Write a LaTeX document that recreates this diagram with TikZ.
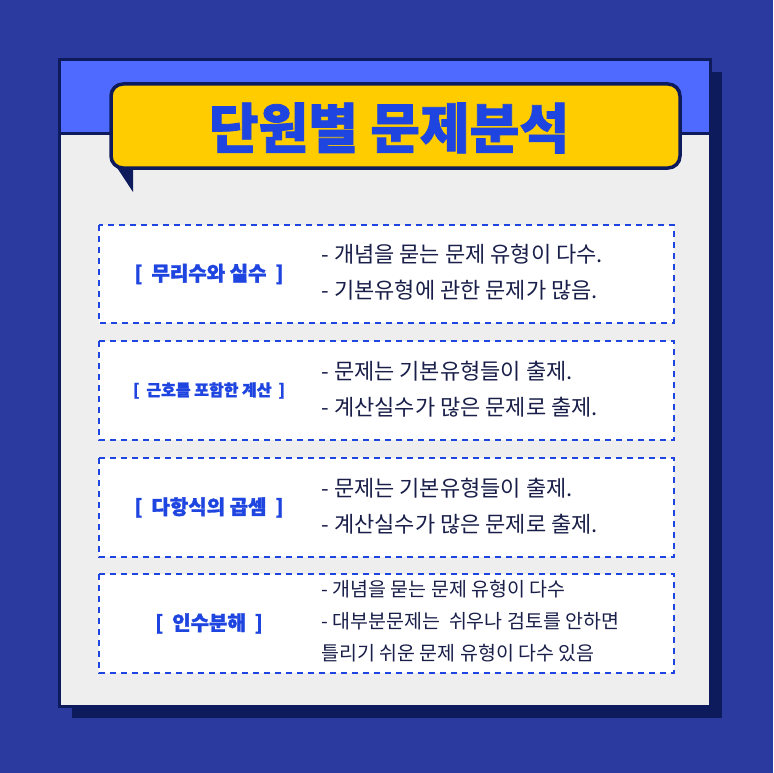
\documentclass[tikz,border=0pt]{standalone}
\usepackage{fontspec}
\newfontfamily\kr{Noto Sans CJK KR}
\newfontfamily\krb{Noto Sans CJK KR}[BoldFeatures={FakeBold=1.5}]
\definecolor{bg}{HTML}{2B3A9E}
\definecolor{navy}{HTML}{0D1A5C}
\definecolor{band}{HTML}{4F6BFF}
\definecolor{panel}{HTML}{EEEEEE}
\definecolor{ylw}{HTML}{FFCC00}
\definecolor{tblue}{HTML}{1F45E0}
\definecolor{txt}{HTML}{1A1F4A}
\tikzset{
 dbox/.style={draw=tblue,line width=2.4pt,dash pattern=on 6pt off 5pt,fill=white},
 lab/.style={font=\krb\bfseries\fontsize{20}{22}\selectfont,text=tblue,anchor=center},
 body/.style={font=\kr\fontsize{22}{36}\selectfont,text=txt,anchor=west,align=left}
}
\begin{document}
\begin{tikzpicture}[x=1pt,y=-1pt]
\fill[bg] (0,0) rectangle (773,773);
\useasboundingbox (0,0) rectangle (773,773);
\fill[navy] (72,72) rectangle (722,718);
\fill[panel] (58,58) rectangle (712,708);
\fill[band] (58,58) rectangle (712,133);
\draw[navy,line width=3pt] (58,133) -- (712,133);
\draw[navy,line width=3.5pt] (59.5,59.5) rectangle (710.5,706.5);
\fill[navy] (112,160) -- (133,192) -- (133,166) -- cycle;
\draw[navy,line width=3.5pt,fill=ylw,rounded corners=12pt] (111,84) rectangle (680,168);
\node[font=\krb\bfseries\fontsize{54}{58}\selectfont,text=tblue] (title) at (389,128) {단원별 문제분석};
\foreach \t/\b/\n in {225/323/a,341/440/b,458/557/c,574/673/d}{
  \draw[dbox] (99,\t) rectangle (674,\b);
  \coordinate (\n) at (209,{(\t+\b)/2});
}
\node[lab] (la) at (a) {[\hspace{9pt}무리수와 실수\hspace{9pt}]};
\node[lab,font=\krb\bfseries\fontsize{16}{18}\selectfont] (lb) at (b) {[\hspace{7pt}근호를 포함한 계산\hspace{7pt}]};
\node[lab] (lc) at (c) {[\hspace{9pt}다항식의 곱셈\hspace{9pt}]};
\node[lab] (ld) at (d) {[\hspace{9pt}인수분해\hspace{9pt}]};
\node[body] (ta) at (318,272) {- 개념을 묻는 문제 유형이 다수.\\- 기본유형에 관한 문제가 많음.};
\node[body] (tb) at (318,389) {- 문제는 기본유형들이 출제.\\- 계산실수가 많은 문제로 출제.};
\node[body] (tc) at (318,506) {- 문제는 기본유형들이 출제.\\- 계산실수가 많은 문제로 출제.};
\node[body,font=\kr\fontsize{19.5}{32}\selectfont] (td) at (318,621) {- 개념을 묻는 문제 유형이 다수\\- 대부분문제는\ \ 쉬우나 검토를 안하면\\틀리기 쉬운 문제 유형이 다수 있음};
\end{tikzpicture}
\end{document}
